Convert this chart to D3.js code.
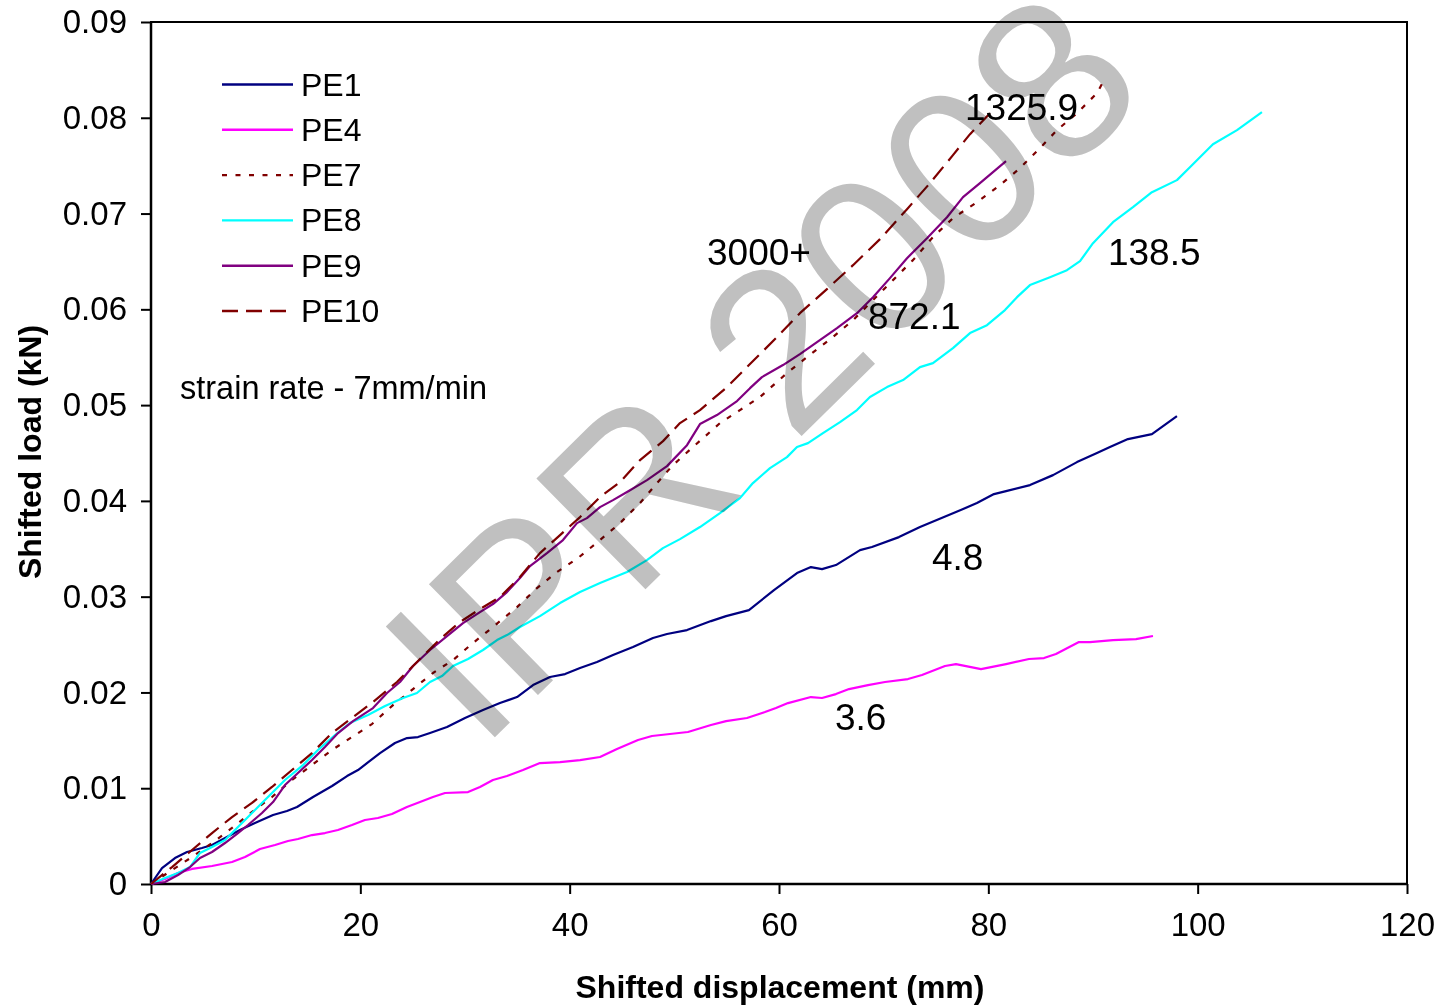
<!DOCTYPE html>
<html><head><meta charset="utf-8">
<script src="https://cdn.jsdelivr.net/npm/d3@7"></script>
<style>
body{margin:0;background:#fff}
svg{display:block}
text{font-family:"Liberation Sans",Arial,sans-serif}
</style>
</head><body>
<svg id="chart" width="1439" height="1006"></svg>
<script>
// ---------- data ----------
const xTicks = [0, 20, 40, 60, 80, 100, 120];
const yTicks = [0, 0.01, 0.02, 0.03, 0.04, 0.05, 0.06, 0.07, 0.08, 0.09];
const seriesNames = ["PE1", "PE4", "PE7", "PE8", "PE9", "PE10"];

const pe1 = [[0,0],[1.05,0.00167],[2.29,0.00271],[3.44,0.00334],[4.87,0.00376],[5.83,0.00407],[7.26,0.00491],[8.50,0.00564],[9.93,0.00637],[11.66,0.0072],[12.99,0.00762],[13.95,0.00804],[15.48,0.00908],[17.30,0.01023],[18.73,0.01127],[19.78,0.0119],[21.88,0.01367],[23.31,0.01472],[24.46,0.01524],[25.51,0.01534],[26.66,0.01576],[28.28,0.01639],[30.00,0.01733],[31.72,0.01816],[33.34,0.01889],[34.97,0.01952],[36.50,0.02077],[38.12,0.02161],[39.56,0.02192],[40.99,0.02255],[42.61,0.02317],[44.14,0.0239],[46.05,0.02474],[47.96,0.02568],[49.30,0.0261],[51.21,0.02651],[53.50,0.02745],[54.94,0.02797],[57.13,0.0286],[59.52,0.03069],[61.72,0.03246],[63.05,0.03309],[64.11,0.03288],[65.44,0.0333],[67.74,0.03486],[68.88,0.03518],[71.46,0.03622],[73.47,0.03727],[76.91,0.03883],[78.91,0.03977],[80.54,0.04071],[81.69,0.04102],[83.98,0.04165],[86.18,0.04269],[88.47,0.04405],[90.38,0.04499],[91.62,0.04562],[93.34,0.04645],[95.63,0.04697],[98.02,0.04885]];

const pe4 = [[0,0],[1.34,0.00052],[2.58,0.00115],[3.92,0.00157],[5.83,0.00188],[7.74,0.0023],[8.98,0.00282],[10.41,0.00365],[11.85,0.00407],[13.09,0.00449],[14.04,0.0047],[15.38,0.00511],[16.62,0.00532],[17.86,0.00564],[19.20,0.00616],[20.44,0.00668],[21.68,0.00689],[23.02,0.00731],[24.45,0.00804],[25.70,0.00856],[26.94,0.00908],[28.09,0.0095],[30.29,0.0096],[31.43,0.01013],[32.67,0.01086],[34.01,0.01127],[35.54,0.0119],[37.16,0.01263],[39.08,0.01273],[40.99,0.01294],[42.90,0.01326],[44.52,0.01409],[46.53,0.01503],[47.86,0.01545],[51.30,0.01587],[53.50,0.0166],[54.94,0.01701],[56.94,0.01733],[58.66,0.01795],[59.71,0.01837],[60.86,0.01889],[63.05,0.01952],[64.11,0.01942],[65.44,0.01983],[66.69,0.02035],[68.50,0.02077],[70.13,0.02109],[72.32,0.0214],[73.66,0.02182],[75.86,0.02276],[76.91,0.02296],[79.30,0.02244],[81.69,0.02296],[83.88,0.02349],[85.32,0.02359],[86.46,0.02401],[88.66,0.02526],[89.71,0.02526],[91.91,0.02547],[94.11,0.02557],[95.73,0.02589]];

const pe7 = [[0,0],[2.01,0.00146],[3.92,0.00282],[5.83,0.00428],[7.74,0.00585],[9.65,0.00752],[11.56,0.00908],[13.47,0.01086],[15.38,0.01242],[17.29,0.01399],[19.20,0.01534],[21.11,0.0167],[23.12,0.01868],[25.03,0.02035],[26.94,0.02203],[28.85,0.02338],[30.76,0.02516],[32.67,0.02683],[34.97,0.02891],[36.88,0.0309],[38.79,0.03257],[40.79,0.03403],[42.90,0.03591],[44.81,0.03768],[46.72,0.03977],[48.34,0.04186],[49.87,0.04374],[51.78,0.04562],[54.36,0.04812],[56.27,0.04948],[58.18,0.05084],[60.76,0.05334],[62.67,0.05501],[65.15,0.0571],[67.07,0.05887],[68.98,0.06096],[70.89,0.06305],[72.80,0.06514],[74.71,0.06754],[76.62,0.06952],[78.91,0.07119],[81.11,0.07296],[83.02,0.07474],[84.93,0.07683],[86.56,0.07871],[88.47,0.08048],[90.38,0.08257],[90.95,0.08372]];

const pe8 = [[0,0],[1.34,0.00063],[2.58,0.00115],[3.73,0.00177],[4.68,0.00324],[5.83,0.00386],[7.07,0.00459],[8.31,0.00595],[9.65,0.00741],[10.60,0.00846],[11.56,0.0095],[12.80,0.01086],[14.52,0.01242],[15.95,0.01399],[17.58,0.01555],[19.01,0.01681],[20.73,0.01764],[22.36,0.01858],[24.08,0.01942],[25.41,0.01994],[26.66,0.02109],[27.80,0.02171],[28.85,0.02276],[30.29,0.02349],[31.72,0.02443],[33.06,0.02547],[34.01,0.02599],[35.25,0.02683],[37.16,0.02797],[39.08,0.02933],[40.99,0.03048],[42.90,0.03142],[45.48,0.03257],[47.38,0.03382],[48.91,0.03507],[50.54,0.03601],[52.45,0.03727],[54.36,0.03873],[56.27,0.04029],[57.51,0.04186],[59.14,0.04342],[60.76,0.04457],[61.72,0.04562],[62.77,0.04603],[64.20,0.04708],[65.83,0.04823],[67.45,0.04948],[68.69,0.05084],[70.32,0.05188],[71.85,0.05261],[73.47,0.05397],[74.71,0.05438],[76.62,0.05595],[78.25,0.05752],[79.87,0.05835],[81.59,0.05992],[82.74,0.06127],[83.98,0.06253],[85.89,0.06336],[87.51,0.06409],[88.76,0.06503],[90.00,0.06691],[91.91,0.0691],[93.82,0.07067],[95.63,0.07223],[98.02,0.07349],[99.26,0.07484],[101.46,0.07724],[103.76,0.07871],[106.14,0.08058]];

const pe9 = [[0,0],[1.34,0.00021],[2.58,0.00094],[3.73,0.00177],[4.68,0.00271],[5.83,0.00334],[7.07,0.00428],[8.31,0.00532],[9.27,0.00616],[10.60,0.00741],[11.66,0.00856],[12.80,0.01033],[14.04,0.01159],[15.38,0.01294],[16.62,0.0143],[17.87,0.01576],[19.30,0.01701],[21.21,0.01837],[22.55,0.01994],[23.79,0.02109],[25.03,0.02276],[26.66,0.02443],[28.28,0.02589],[29.81,0.02724],[31.43,0.02839],[32.67,0.02923],[34.01,0.03048],[35.25,0.03194],[36.21,0.03319],[37.83,0.03455],[39.36,0.03591],[40.70,0.03768],[41.65,0.0382],[42.90,0.03935],[44.14,0.04008],[45.48,0.04092],[47.39,0.04217],[49.30,0.04363],[51.21,0.04582],[52.45,0.04802],[54.07,0.04896],[55.99,0.05042],[57.23,0.05177],[58.37,0.05292],[60.38,0.05418],[62.00,0.05532],[63.63,0.05658],[65.54,0.05804],[67.45,0.0596],[68.98,0.06127],[70.60,0.06326],[72.23,0.06534],[74.14,0.06743],[76.05,0.06962],[77.58,0.07171],[79.20,0.07317],[81.69,0.07547]];

const pe10 = [[0,0],[2.01,0.00177],[3.92,0.00355],[5.83,0.00532],[7.74,0.00699],[9.65,0.00846],[11.56,0.01013],[13.47,0.0119],[15.38,0.01367],[17.29,0.01576],[19.30,0.01743],[21.21,0.019],[23.50,0.02109],[25.70,0.02349],[27.61,0.02557],[29.52,0.02735],[31.43,0.02871],[33.34,0.02996],[35.25,0.03205],[37.16,0.03455],[39.08,0.03643],[40.99,0.03831],[42.90,0.0404],[44.81,0.04196],[46.72,0.04426],[48.92,0.04624],[50.54,0.04812],[52.45,0.04948],[55.03,0.05188],[56.94,0.05397],[59.81,0.0571],[62.00,0.0596],[64.58,0.06211],[67.07,0.06461],[69.65,0.06733],[72.23,0.07046],[74.42,0.07317],[76.62,0.0761],[78.25,0.07829],[80.16,0.08048]];

const annotationText = ["1325.9", "3000+", "872.1", "138.5", "4.8", "3.6"];
const annotationX = [77.77, 53.12, 68.50, 91.43, 74.62, 65.35];
const annotationY = [0.0811, 0.0659, 0.0592, 0.0659, 0.0341, 0.0174];

const noteText = "strain rate - 7mm/min";
const xTitle = "Shifted displacement (mm)";
const yTitle = "Shifted load (kN)";
const watermark = "IPR 2008";

// ---------- layout ----------
const svg = d3.select("#chart");
const L = 151, R = 1407, T = 22, B = 884;
const x = d3.scaleLinear().domain([0, 120]).range([L, R]);
const y = d3.scaleLinear().domain([0, 0.09]).range([B, T]);
const FS = 32, FS_TICK = 33, FS_NOTE = 37;

const styles = [
  {color: "#000080", dash: null},
  {color: "#ff00ff", dash: null},
  {color: "#800000", dash: "5,8.5"},
  {color: "#00ffff", dash: null},
  {color: "#800080", dash: null},
  {color: "#800000", dash: "16,8"}
];
const allSeries = [pe1, pe4, pe7, pe8, pe9, pe10];

// frame (top/right)
svg.append("rect").attr("x", L).attr("y", T).attr("width", R - L).attr("height", B - T)
  .attr("fill", "none").attr("stroke", "#000").attr("stroke-width", 2);

// axes
const xAxis = d3.axisBottom(x).tickValues(xTicks).tickSize(10).tickPadding(19).tickFormat(d3.format("d"));
const gx = svg.append("g").attr("transform", `translate(0,${B})`).call(xAxis);
const yAxis = d3.axisLeft(y).tickValues(yTicks).tickSize(10).tickPadding(14)
  .tickFormat(d => d === 0 ? "0" : d.toFixed(2));
const gy = svg.append("g").attr("transform", `translate(${L},0)`).call(yAxis);
[gx, gy].forEach(g => {
  g.selectAll(".domain").attr("stroke", "#000").attr("stroke-width", 2.5);
  g.selectAll(".tick line").attr("stroke", "#000").attr("stroke-width", 2);
  g.selectAll(".tick text").attr("fill", "#000").attr("font-size", FS_TICK)
    .attr("font-family", '"Liberation Sans",Arial,sans-serif');
});
gy.select(".domain").attr("d", `M0,${T}V${B}`);
gx.select(".domain").attr("d", `M${L},0H${R}`);

// lines
const line = d3.line().x(d => x(d[0])).y(d => y(d[1]));
allSeries.forEach((s, i) => {
  svg.append("path").datum(s).attr("d", line)
    .attr("fill", "none").attr("stroke", styles[i].color)
    .attr("stroke-width", 2.2)
    .attr("stroke-dasharray", styles[i].dash)
    .attr("stroke-linejoin", "round");
});

// annotations
annotationText.forEach((t, i) => {
  svg.append("text").attr("x", x(annotationX[i])).attr("y", y(annotationY[i]))
    .attr("dominant-baseline", "central").attr("font-size", FS_NOTE).attr("fill", "#000").text(t);
});

// legend
const legY0 = 84.5, legStep = 45.3;
seriesNames.forEach((n, i) => {
  const yy = legY0 + i * legStep;
  svg.append("line").attr("x1", 222).attr("x2", 293).attr("y1", yy).attr("y2", yy)
    .attr("stroke", styles[i].color).attr("stroke-width", 2.4)
    .attr("stroke-dasharray", styles[i].dash);
  svg.append("text").attr("x", 301).attr("y", yy).attr("dominant-baseline", "central")
    .attr("font-size", FS).attr("fill", "#000").text(n);
});

svg.append("text").attr("x", 180).attr("y", 388).attr("dominant-baseline", "central")
  .attr("font-size", 32.5).attr("fill", "#000").text(noteText);

// axis titles
svg.append("text").attr("x", (L + R) / 2 + 1).attr("y", 987).attr("dominant-baseline", "central")
  .attr("text-anchor", "middle").attr("font-size", FS).attr("font-weight", "bold").text(xTitle);
svg.append("text").attr("transform", `translate(30,${(T + B) / 2 - 1}) rotate(-90)`)
  .attr("dominant-baseline", "central").attr("text-anchor", "middle")
  .attr("font-size", FS).attr("font-weight", "bold").text(yTitle);

// watermark
svg.append("text").attr("transform", "translate(480,752) rotate(-44.5)")
  .attr("font-size", 226).attr("fill", "#c0c0c0")
  .style("mix-blend-mode", "multiply").text(watermark);
</script>
</body></html>
